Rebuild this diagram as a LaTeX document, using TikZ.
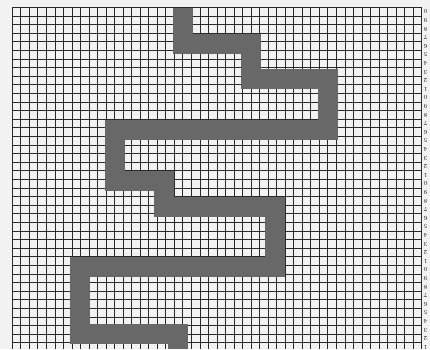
\documentclass[tikz,border=0pt]{standalone}
\definecolor{band}{RGB}{104,104,104}
\definecolor{rule}{RGB}{40,40,40}
\definecolor{paper}{RGB}{242,242,242}
\begin{document}
\begin{tikzpicture}[x=0.02cm, y=-0.02cm, every node/.style={font=\fontsize{3.4}{4}\selectfont}]
  \useasboundingbox (0,0) rectangle (430,349);
  \fill[paper] (0,0) rectangle (430,349);

  % graph paper
  \foreach \j in {0,...,48}
    \draw[rule, line width=0.5pt] ({12.3+8.53*\j},7.5) -- ({12.3+8.53*\j},349);
  \foreach \k in {0,...,39}
    \draw[rule, line width=0.5pt] (12.3,{7.5+8.6*\k}) -- (421.7,{7.5+8.6*\k});

  % row numbers, printed upside down in the margin
  \foreach \k in {0,...,39} {
    \pgfmathtruncatemacro{\d}{mod(10-mod(\k,10),10)}
    \node[rotate=180, text=rule, inner sep=0pt] (row\k) at (425.5,{11.8+8.6*\k}) {\d};
  }

  % the winding band
  \draw[band, line width=0.39cm, line join=miter]
    (183,7.5) -- (183,44) -- (251,44) -- (251,79) -- (328,79) -- (328,130)
    -- (115,130) -- (115,181) -- (164,181) -- (164,207) -- (275,207)
    -- (275,267) -- (80,267) -- (80,334) -- (178,334) -- (178,349);
\end{tikzpicture}
\end{document}
